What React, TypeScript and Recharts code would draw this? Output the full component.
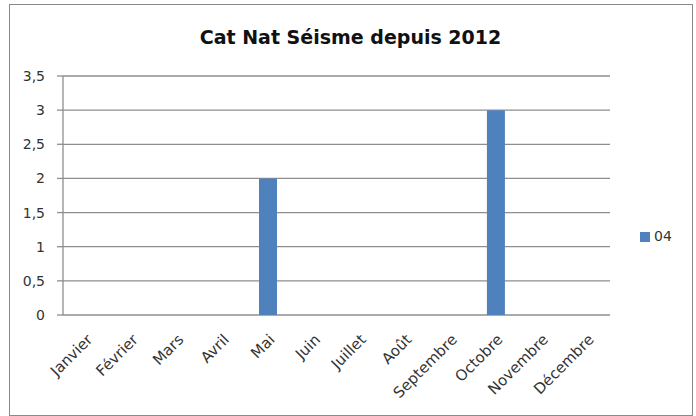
import React from 'react';
import { BarChart, Bar, XAxis, YAxis, CartesianGrid, Legend } from 'recharts';

const months = ['Janvier', 'Février', 'Mars', 'Avril', 'Mai', 'Juin', 'Juillet', 'Août', 'Septembre', 'Octobre', 'Novembre', 'Décembre'];
const values04 = [0, 0, 0, 0, 2, 0, 0, 0, 0, 3, 0, 0];
const yTicks = [0, 0.5, 1, 1.5, 2, 2.5, 3, 3.5];
const boundaryTicks = [0, 1, 2, 3, 4, 5, 6, 7, 8, 9, 10, 11, 12];

const data = months.map((m, i) => ({ month: m, '04': values04[i] }));

const FONT = '"DejaVu Sans", Verdana, sans-serif';
const GRID = '#8e8e8e';

const App: React.FC = () => {
  return (
    <div style={{ position: 'absolute', left: 0, top: 0, width: 696, height: 416, background: '#fff', fontFamily: FONT }}>
      <div style={{ position: 'absolute', left: 9, top: 4, width: 682, height: 410, border: '1px solid #8a8a8a' }} />
      <div style={{ position: 'absolute', left: 0, top: 26, width: 701, textAlign: 'center', fontSize: 19, lineHeight: '22px', fontWeight: 'bold', color: '#111' }}>
        Cat Nat Séisme depuis 2012
      </div>
      <div style={{ position: 'absolute', left: 0, top: 0 }}>
        <BarChart width={696} height={416} data={data} margin={{ top: 76, right: 36, left: 0, bottom: 21 }} barCategoryGap="30%">
          <CartesianGrid xAxisId="cat" vertical={false} stroke={GRID} strokeWidth={1.3} />
          <XAxis
            xAxisId="grid"
            type="number"
            domain={[0, 12]}
            ticks={boundaryTicks}
            allowDataOverflow
            height={0}
            tick={false}
            tickSize={6}
            axisLine={{ stroke: GRID, strokeWidth: 1.3 }}
            tickLine={{ stroke: GRID, strokeWidth: 1.3 }}
          />
          <XAxis
            xAxisId="cat"
            dataKey="month"
            axisLine={false}
            tickLine={false}
            interval={0}
            height={80}
            angle={-45}
            textAnchor="end"
            tickMargin={12}
            tick={{ fontSize: 15, fill: '#333', fontFamily: FONT }}
          />
          <YAxis
            domain={[0, 3.5]}
            ticks={yTicks}
            width={63}
            tickSize={6}
            tickMargin={12}
            tickFormatter={(v: number) => String(v).replace('.', ',')}
            axisLine={{ stroke: GRID, strokeWidth: 1.3 }}
            tickLine={{ stroke: GRID, strokeWidth: 1.3 }}
            tick={{ fontSize: 14, fill: '#333', fontFamily: FONT }}
          />
          <Legend
            layout="vertical"
            align="right"
            verticalAlign="middle"
            iconType="square"
            iconSize={10}
            wrapperStyle={{ position: 'absolute', left: 640, top: 228, width: 50, fontSize: 14, fontFamily: FONT }}
            formatter={(v: string) => <span style={{ color: '#333' }}>{v}</span>}
          />
          <Bar xAxisId="cat" dataKey="04" fill="#4f81bd" isAnimationActive={false} />
        </BarChart>
      </div>
    </div>
  );
};

export default App;
